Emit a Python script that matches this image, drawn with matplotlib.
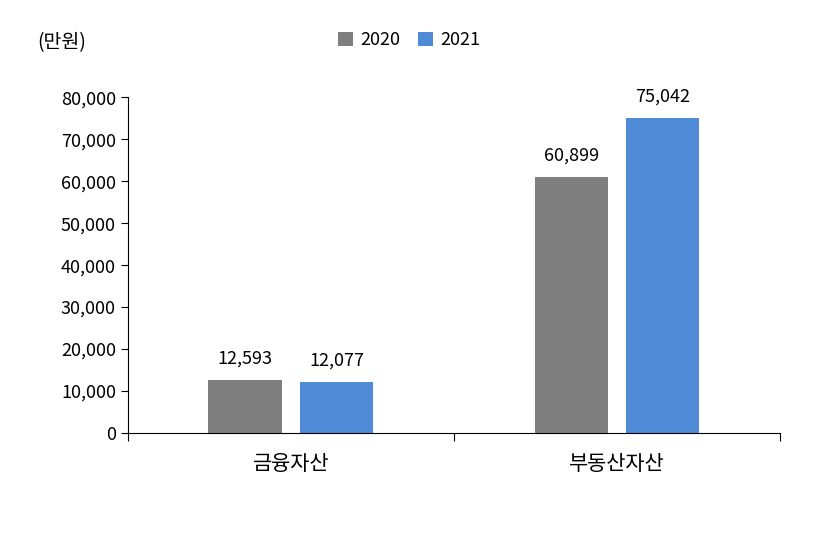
import matplotlib
matplotlib.use("Agg")
import matplotlib.pyplot as plt
import numpy as np

plt.rcParams["font.family"] = ["Noto Sans CJK KR", "DejaVu Sans"]

categories = ["금융자산", "부동산자산"]
years = ["2020", "2021"]
values_2020 = [12593, 60899]
values_2021 = [12077, 75042]
colors = ["#7f7f7f", "#4f8bd6"]

fig = plt.figure(figsize=(8.35, 5.34), dpi=100)
ax = fig.add_axes([0.153, 0.189, 0.781, 0.629])

x = np.arange(len(categories))
width = 0.225
offset = 0.14
for vals, off, col, lab in [(values_2020, -offset, colors[0], years[0]),
                            (values_2021, offset, colors[1], years[1])]:
    bars = ax.bar(x + off, vals, width=width, color=col, label=lab)
    for b, v in zip(bars, vals):
        ax.text(b.get_x() + b.get_width() / 2, v + 3000, f"{v:,}",
                ha="center", va="bottom", fontsize=13)

ax.set_xlim(-0.5, 1.5)
ax.set_ylim(0, 80000)
ax.set_yticks(np.arange(0, 80001, 10000))
ax.set_yticklabels([f"{v:,}" for v in range(0, 80001, 10000)], fontsize=13)
ax.set_xticks([-0.5, 0.5, 1.5])
ax.set_xticklabels([])
ax.set_xticks(x, minor=True)
ax.set_xticklabels(categories, minor=True, fontsize=15)
ax.tick_params(axis="x", which="minor", length=0, pad=14)
ax.tick_params(axis="x", which="major", length=6, direction="out")
ax.tick_params(axis="y", length=5, direction="out")
for s in ["top", "right"]:
    ax.spines[s].set_visible(False)

fig.text(0.045, 0.92, "(만원)", fontsize=14, va="center")
fig.legend(loc="center", bbox_to_anchor=(0.49, 0.925), ncol=2, frameon=False,
           fontsize=13, handlelength=0.8, handleheight=0.8, columnspacing=1.0,
           handletextpad=0.4)

fig.savefig("out.png", dpi=100)
